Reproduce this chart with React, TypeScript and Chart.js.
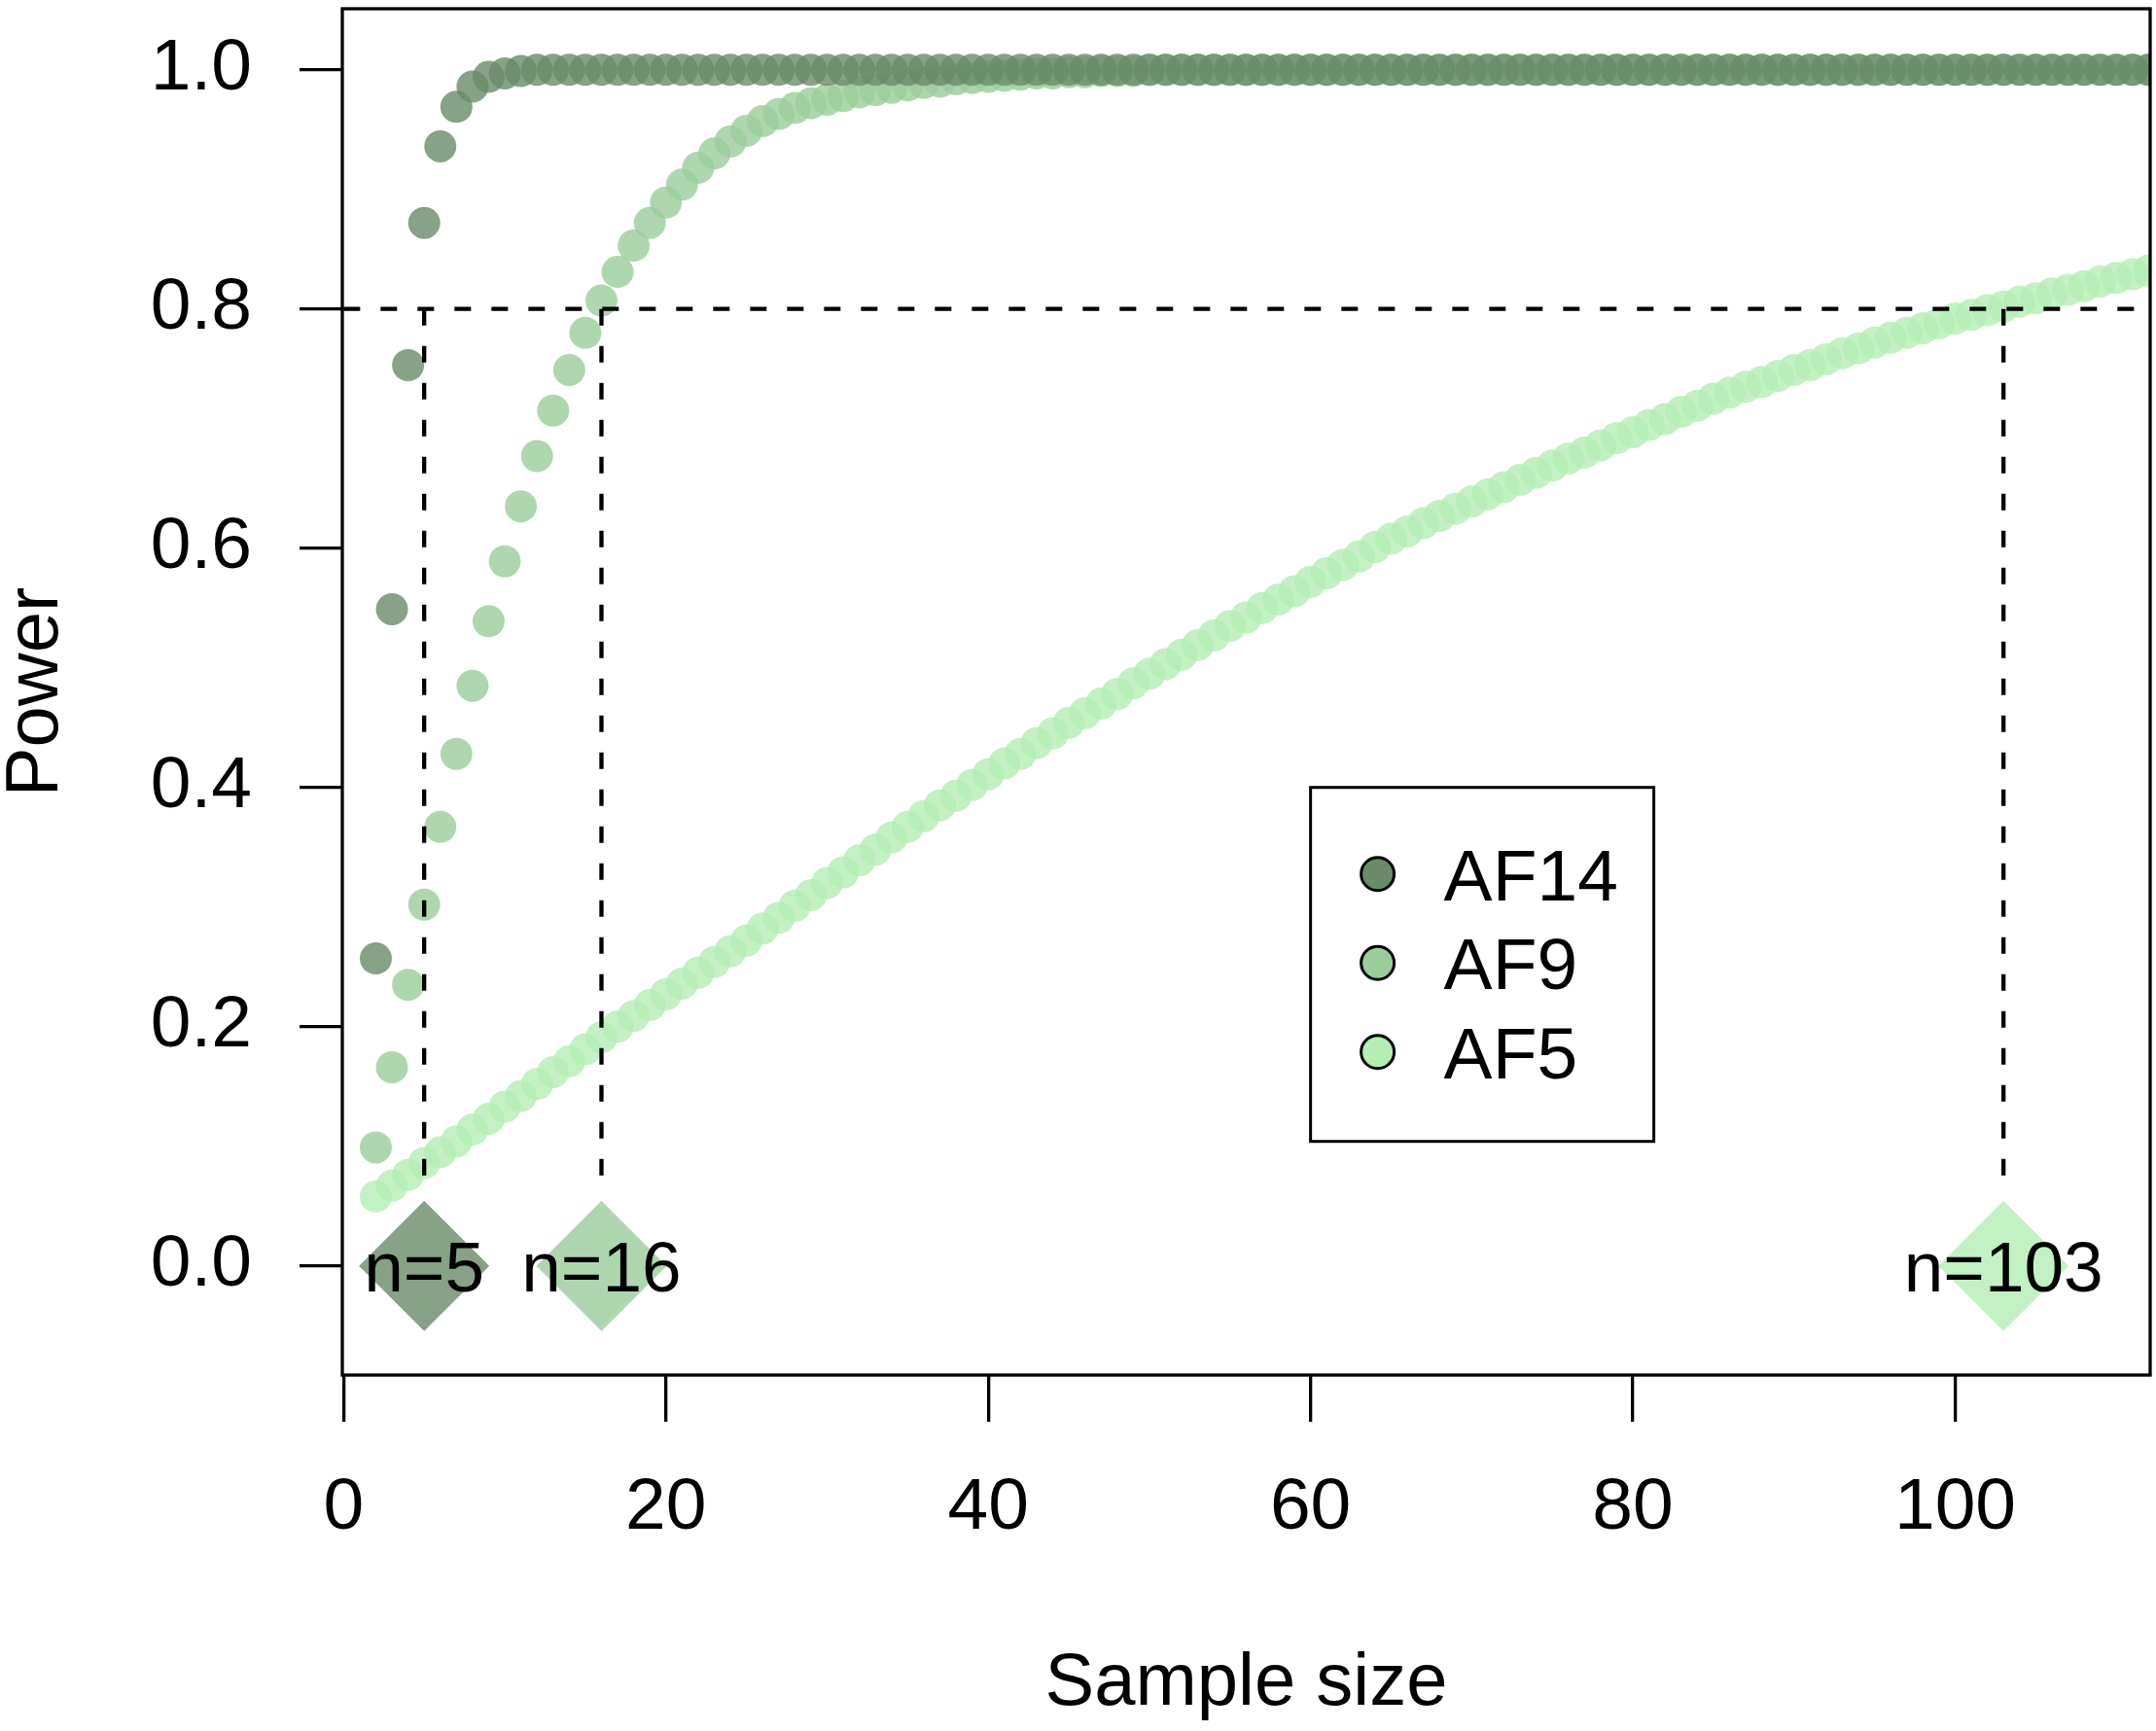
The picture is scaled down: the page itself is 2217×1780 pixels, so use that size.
import { useEffect, useRef } from 'react';
import { Chart, registerables } from 'chart.js';

Chart.register(...registerables);

// sample sizes on the x axis
const sampleSizes = [
  2, 3, 4, 5, 6, 7, 8, 9, 10, 11,
  12, 13, 14, 15, 16, 17, 18, 19, 20, 21,
  22, 23, 24, 25, 26, 27, 28, 29, 30, 31,
  32, 33, 34, 35, 36, 37, 38, 39, 40, 41,
  42, 43, 44, 45, 46, 47, 48, 49, 50, 51,
  52, 53, 54, 55, 56, 57, 58, 59, 60, 61,
  62, 63, 64, 65, 66, 67, 68, 69, 70, 71,
  72, 73, 74, 75, 76, 77, 78, 79, 80, 81,
  82, 83, 84, 85, 86, 87, 88, 89, 90, 91,
  92, 93, 94, 95, 96, 97, 98, 99, 100, 101,
  102, 103, 104, 105, 106, 107, 108, 109, 110, 111,
  112,
];

const powerAF14 = [
  0.257, 0.549, 0.753, 0.872, 0.936, 0.969, 0.986, 0.994, 0.997, 0.999,
  1, 1, 1, 1, 1, 1, 1, 1, 1, 1,
  1, 1, 1, 1, 1, 1, 1, 1, 1, 1,
  1, 1, 1, 1, 1, 1, 1, 1, 1, 1,
  1, 1, 1, 1, 1, 1, 1, 1, 1, 1,
  1, 1, 1, 1, 1, 1, 1, 1, 1, 1,
  1, 1, 1, 1, 1, 1, 1, 1, 1, 1,
  1, 1, 1, 1, 1, 1, 1, 1, 1, 1,
  1, 1, 1, 1, 1, 1, 1, 1, 1, 1,
  1, 1, 1, 1, 1, 1, 1, 1, 1, 1,
  1, 1, 1, 1, 1, 1, 1, 1, 1, 1,
  1,
];

const powerAF9 = [
  0.099, 0.166, 0.235, 0.302, 0.367, 0.428, 0.485, 0.539, 0.589, 0.635,
  0.677, 0.715, 0.749, 0.78, 0.807, 0.831, 0.853, 0.872, 0.889, 0.904,
  0.918, 0.93, 0.94, 0.949, 0.957, 0.963, 0.968, 0.972, 0.975, 0.978,
  0.981, 0.983, 0.985, 0.987, 0.989, 0.99, 0.992, 0.993, 0.994, 0.995,
  0.996, 0.997, 0.997, 0.998, 0.998, 0.999, 0.999, 0.999, 1, 1,
  1, 1, 1, 1, 1, 1, 1, 1, 1, 1,
  1, 1, 1, 1, 1, 1, 1, 1, 1, 1,
  1, 1, 1, 1, 1, 1, 1, 1, 1, 1,
  1, 1, 1, 1, 1, 1, 1, 1, 1, 1,
  1, 1, 1, 1, 1, 1, 1, 1, 1, 1,
  1, 1, 1, 1, 1, 1, 1, 1, 1, 1,
  1,
];

const powerAF5 = [
  0.058, 0.067, 0.076, 0.086, 0.095, 0.104, 0.114, 0.123, 0.133, 0.142,
  0.152, 0.162, 0.171, 0.181, 0.191, 0.2, 0.209, 0.218, 0.227, 0.236,
  0.245, 0.254, 0.263, 0.272, 0.282, 0.291, 0.301, 0.31, 0.32, 0.329,
  0.339, 0.348, 0.358, 0.367, 0.376, 0.385, 0.393, 0.402, 0.411, 0.42,
  0.428, 0.437, 0.445, 0.454, 0.462, 0.47, 0.478, 0.487, 0.495, 0.503,
  0.511, 0.519, 0.527, 0.535, 0.542, 0.55, 0.557, 0.564, 0.572, 0.579,
  0.586, 0.593, 0.601, 0.608, 0.614, 0.621, 0.627, 0.633, 0.639, 0.645,
  0.651, 0.657, 0.663, 0.669, 0.675, 0.68, 0.686, 0.692, 0.697, 0.703,
  0.708, 0.714, 0.719, 0.725, 0.73, 0.735, 0.739, 0.744, 0.749, 0.753,
  0.758, 0.763, 0.767, 0.772, 0.776, 0.78, 0.784, 0.788, 0.792, 0.795,
  0.799, 0.802, 0.806, 0.809, 0.813, 0.816, 0.819, 0.823, 0.826, 0.829,
  0.832,
];

const seriesNames = ['AF14', 'AF9', 'AF5'];
const targetPower = 0.8;
const requiredN = [5, 16, 103];
const requiredLabels = ['n=5', 'n=16', 'n=103'];

const xTicks = [0, 20, 40, 60, 80, 100];
const yTicks = [0, 0.2, 0.4, 0.6, 0.8, 1.0];
const yTickLabels = ['0.0', '0.2', '0.4', '0.6', '0.8', '1.0'];

const FONT = '"Liberation Sans", Arial, Helvetica, sans-serif';
const solid = ['#698B69', '#9BCD9B', '#B4EEB4'];
const faded = ['rgba(105,139,105,0.8)', 'rgba(155,205,155,0.8)', 'rgba(180,238,180,0.8)'];

const toPoints = (ys: number[]) => sampleSizes.map((n, i) => ({ x: n, y: ys[i] }));

const overlay = {
  id: 'overlay',
  afterDatasetsDraw(chart: any) {
    const { ctx, chartArea, scales } = chart;
    const x = scales.x;
    const y = scales.y;
    ctx.save();

    // n= labels on the diamonds
    const nSize = 73;
    ctx.font = `${nSize}px ${FONT}`;
    ctx.fillStyle = '#000';
    ctx.textAlign = 'center';
    ctx.textBaseline = 'alphabetic';
    requiredN.forEach((n, i) => {
      ctx.fillText(requiredLabels[i], x.getPixelForValue(n), y.getPixelForValue(0) + nSize * 0.358);
    });

    // plot frame
    ctx.strokeStyle = '#000';
    ctx.lineWidth = 3.3;
    ctx.strokeRect(chartArea.left, chartArea.top, chartArea.right - chartArea.left, chartArea.bottom - chartArea.top);

    // legend, anchored at (60, 0.4) like legend(60, 0.4, ...)
    const lx = x.getPixelForValue(60);
    const ly = y.getPixelForValue(0.4);
    ctx.lineWidth = 3;
    ctx.fillStyle = '#fff';
    ctx.fillRect(lx, ly, 353, 364);
    ctx.strokeRect(lx, ly, 353, 364);
    const lSize = 75;
    ctx.font = `${lSize}px ${FONT}`;
    ctx.textAlign = 'left';
    seriesNames.forEach((name, i) => {
      const cy = ly + 89 + i * 91.5;
      ctx.beginPath();
      ctx.arc(lx + 69, cy, 17, 0, Math.PI * 2);
      ctx.fillStyle = solid[i];
      ctx.fill();
      ctx.lineWidth = 3;
      ctx.strokeStyle = '#000';
      ctx.stroke();
      ctx.fillStyle = '#000';
      ctx.fillText(name, lx + 137, cy + lSize * 0.358);
    });

    ctx.restore();
  },
};

export default function App() {
  const canvasRef = useRef<HTMLCanvasElement | null>(null);

  useEffect(() => {
    if (!canvasRef.current) return;
    const ctx = canvasRef.current.getContext('2d');
    if (!ctx) return;

    const dashed = {
      showLine: true,
      pointRadius: 0,
      borderColor: '#000',
      borderWidth: 4.3,
      borderDash: [17, 21],
      order: 1,
    };

    const chart = new Chart(ctx, {
      type: 'scatter',
      data: {
        datasets: [
          {
            label: 'required n',
            data: requiredN.map((n) => ({ x: n, y: 0 })),
            pointStyle: 'rectRot',
            pointRadius: 67,
            pointBorderWidth: 0,
            backgroundColor: faded,
            order: 0,
          },
          {
            label: 'target',
            data: [{ x: 0, y: targetPower }, { x: 112.1, y: targetPower }],
            ...dashed,
          },
          ...requiredN.map((n) => ({
            label: `drop ${n}`,
            data: [{ x: n, y: targetPower }, { x: n, y: 0.07 }],
            ...dashed,
          })),
          {
            label: seriesNames[0],
            data: toPoints(powerAF14),
            backgroundColor: faded[0],
            pointRadius: 16.5,
            pointBorderWidth: 0,
            order: 2,
          },
          {
            label: seriesNames[1],
            data: toPoints(powerAF9),
            backgroundColor: faded[1],
            pointRadius: 16.5,
            pointBorderWidth: 0,
            order: 3,
          },
          {
            label: seriesNames[2],
            data: toPoints(powerAF5),
            backgroundColor: faded[2],
            pointRadius: 16.5,
            pointBorderWidth: 0,
            order: 4,
          },
        ],
      },
      options: {
        responsive: false,
        devicePixelRatio: 1,
        animation: false,
        events: [],
        layout: { autoPadding: false, padding: { top: 9, right: 6, left: 0, bottom: 0 } },
        plugins: { legend: { display: false }, tooltip: { enabled: false } },
        scales: {
          x: {
            type: 'linear',
            min: -0.08,
            max: 112.1,
            afterBuildTicks: (s: any) => {
              s.ticks = xTicks.map((v) => ({ value: v }));
            },
            afterFit: (s: any) => {
              s.height = 366;
              s.paddingLeft = 0;
              s.paddingRight = 0;
            },
            border: { display: false },
            grid: { drawOnChartArea: false, drawTicks: true, tickLength: 48, color: '#000', lineWidth: 3.3 },
            ticks: {
              color: '#000',
              padding: 52,
              font: { family: FONT, size: 75, lineHeight: 1 },
              maxRotation: 0,
              callback: (v: any) => String(v),
            },
            title: {
              display: true,
              text: 'Sample size',
              color: '#000',
              font: { family: FONT, size: 76, lineHeight: 1 },
              padding: { top: 0, bottom: 10 },
            },
          },
          y: {
            type: 'linear',
            min: -0.0913,
            max: 1.051,
            afterBuildTicks: (s: any) => {
              s.ticks = yTicks.map((v) => ({ value: v }));
            },
            afterFit: (s: any) => {
              s.width = 352;
              s.paddingTop = 0;
              s.paddingBottom = 0;
            },
            border: { display: false },
            grid: { drawOnChartArea: false, drawTicks: true, tickLength: 44, color: '#000', lineWidth: 3.3 },
            ticks: {
              color: '#000',
              padding: 49,
              font: { family: FONT, size: 75, lineHeight: 1 },
              callback: (_v: any, i: number) => yTickLabels[i],
            },
            title: {
              display: true,
              text: 'Power',
              color: '#000',
              font: { family: FONT, size: 76, lineHeight: 1 },
              padding: { top: 0, bottom: 0 },
            },
          },
        },
      },
      plugins: [overlay],
    } as any);

    return () => chart.destroy();
  }, []);

  return (
    <div style={{ position: 'fixed', left: 0, top: 0, width: 2217, height: 1780, background: '#fff' }}>
      <canvas ref={canvasRef} width={2217} height={1780} style={{ display: 'block', width: 2217, height: 1780 }} />
    </div>
  );
}
